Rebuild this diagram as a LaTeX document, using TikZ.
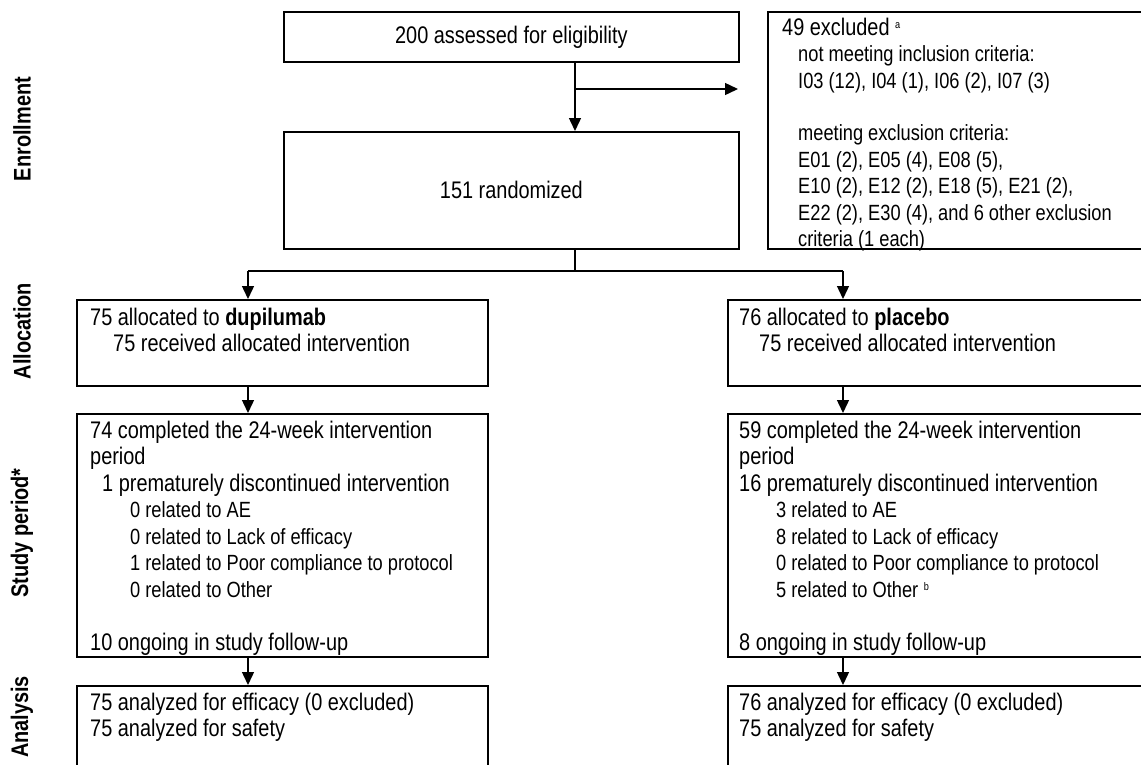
\documentclass[tikz,border=0pt]{standalone}
\usepackage{fontspec}
\setmainfont{Liberation Sans}[FakeStretch=0.83]
\usetikzlibrary{arrows.meta}
\newcommand{\sm}[1]{{\fontsize{22}{26.5}\selectfont #1}}
\begin{document}
\begin{tikzpicture}[x=1pt,y=-1pt,
  box/.style={draw, line width=1.8pt, inner sep=0pt, anchor=north west,
    font=\fontsize{24}{26.5}\selectfont},
  txt/.style={anchor=north west, align=left, inner sep=0pt,
    font=\fontsize{24}{26.5}\selectfont},
  lbl/.style={rotate=90, inner sep=0pt, font=\bfseries\fontsize{24}{26}\selectfont},
  conn/.style={line width=1.4pt},
  arr/.style={conn, -{Triangle[length=13pt,width=12pt]}}]
\useasboundingbox (0,0) rectangle (1141,764);
\clip (0,0) rectangle (1141,764);

% side labels
\node[lbl] (lenr) at (22,129) {Enrollment};
\node[lbl] (lall) at (22,331) {Allocation};
\node[lbl] (lstu) at (22,533) {Study period*};
\node[lbl] (lana) at (22,717) {Analysis};

% enrollment
\node[box, minimum width=455pt, minimum height=50pt] (assess) at (283,11) {200 assessed for eligibility};
\node[box, minimum width=455pt, minimum height=117pt] (rand) at (283,131) {151 randomized};
\node[box, minimum width=400pt, minimum height=237pt] (excl) at (767,11) {};
\node[txt] (excltxt) at (782,16.5) {\strut 49 excluded {\fontsize{11}{11}\selectfont\raisebox{7pt}{a}}\\
\hspace*{16pt}\sm{not meeting inclusion criteria:}\\
\hspace*{16pt}\sm{I03 (12), I04 (1), I06 (2), I07 (3)}\\[26pt]
\hspace*{16pt}\sm{meeting exclusion criteria:}\\
\hspace*{16pt}\sm{E01 (2), E05 (4), E08 (5),}\\
\hspace*{16pt}\sm{E10 (2), E12 (2), E18 (5), E21 (2),}\\
\hspace*{16pt}\sm{E22 (2), E30 (4), and 6 other exclusion}\\
\hspace*{16pt}\sm{criteria (1 each)}};

% allocation
\node[box, minimum width=411pt, minimum height=86pt] (dall) at (76,299) {};
\node[txt] (dalltxt) at (90,306.5) {\strut 75 allocated to \textbf{dupilumab}\\
\hspace*{23pt}75 received allocated intervention};
\node[box, minimum width=440pt, minimum height=86pt] (pall) at (727,299) {};
\node[txt] (palltxt) at (739,306.5) {\strut 76 allocated to \textbf{placebo}\\
\hspace*{20pt}75 received allocated intervention};

% study period
\node[box, minimum width=411pt, minimum height=243pt] (dstu) at (76,413) {};
\node[txt] (dstutxt) at (90,419.5) {\strut 74 completed the 24-week intervention\\
period\\
\hspace*{12pt}1 prematurely discontinued intervention\\
\hspace*{40pt}\sm{0 related to AE}\\
\hspace*{40pt}\sm{0 related to Lack of efficacy}\\
\hspace*{40pt}\sm{1 related to Poor compliance to protocol}\\
\hspace*{40pt}\sm{0 related to Other}\\[26.5pt]
10 ongoing in study follow-up};
\node[box, minimum width=440pt, minimum height=243pt] (pstu) at (727,413) {};
\node[txt] (pstutxt) at (739,419.5) {\strut 59 completed the 24-week intervention\\
period\\
16 prematurely discontinued intervention\\
\hspace*{37pt}\sm{3 related to AE}\\
\hspace*{37pt}\sm{8 related to Lack of efficacy}\\
\hspace*{37pt}\sm{0 related to Poor compliance to protocol}\\
\hspace*{37pt}\sm{5 related to Other} {\fontsize{11}{11}\selectfont\raisebox{7pt}{b}}\\[26.5pt]
8 ongoing in study follow-up};

% analysis
\node[box, minimum width=411pt, minimum height=120pt] (dana) at (76,685) {};
\node[txt] (danatxt) at (90,691.5) {\strut 75 analyzed for efficacy (0 excluded)\\
75 analyzed for safety};
\node[box, minimum width=440pt, minimum height=120pt] (pana) at (727,685) {};
\node[txt] (panatxt) at (739,691.5) {\strut 76 analyzed for efficacy (0 excluded)\\
75 analyzed for safety};

% connectors
\coordinate (spine) at (575,89);
\coordinate (exctip) at (738,89);
\coordinate (split) at (575,271);
\coordinate (lx) at (248,271);
\coordinate (rx) at (843,271);
\draw[arr] (assess.south -| spine) -- (rand.north -| spine);
\draw[arr] (spine) -- (exctip);
\draw[conn] (rand.south -| split) -- (split);
\draw[conn] (lx) -- (rx);
\draw[arr] (lx) -- (lx |- dall.north);
\draw[arr] (rx) -- (rx |- pall.north);
\draw[arr] (dall.south -| lx) -- (dstu.north -| lx);
\draw[arr] (pall.south -| rx) -- (pstu.north -| rx);
\draw[arr] (dstu.south -| lx) -- (dana.north -| lx);
\draw[arr] (pstu.south -| rx) -- (pana.north -| rx);
\end{tikzpicture}
\end{document}
